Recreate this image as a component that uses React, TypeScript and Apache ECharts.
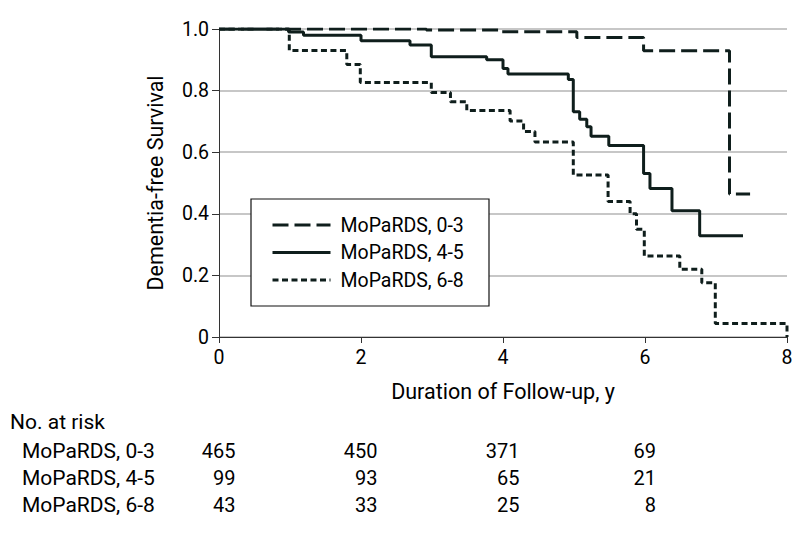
import React, { useEffect, useRef } from "react";
import * as echarts from "echarts";

// ---- data ----
const seriesNames = ["MoPaRDS, 0-3", "MoPaRDS, 4-5", "MoPaRDS, 6-8"];

// Kaplan-Meier steps: time (y) at which survival becomes the value
const timesLow = [0, 2.92, 3.95, 5.04, 5.98, 7.19, 7.48];
const survLow = [1.0, 0.997, 0.991, 0.972, 0.929, 0.464, 0.464];

const timesMid = [0, 0.98, 1.19, 2.0, 2.69, 2.99, 3.77, 4.0, 4.07, 4.92, 4.99, 5.08, 5.18, 5.24, 5.49, 5.98, 6.07, 6.38, 6.77, 7.38];
const survMid = [1.0, 0.99, 0.98, 0.962, 0.948, 0.91, 0.9, 0.872, 0.854, 0.836, 0.731, 0.707, 0.683, 0.652, 0.622, 0.531, 0.482, 0.41, 0.329, 0.329];

const timesHigh = [0, 0.99, 1.8, 1.99, 2.99, 3.26, 3.49, 4.1, 4.29, 4.45, 4.99, 5.48, 5.79, 5.88, 5.99, 6.49, 6.8, 6.99, 8.0];
const survHigh = [1.0, 0.93, 0.885, 0.826, 0.794, 0.764, 0.735, 0.701, 0.667, 0.633, 0.526, 0.44, 0.4, 0.35, 0.263, 0.22, 0.176, 0.044, 0.0];

const xTicks = [0, 2, 4, 6, 8];
const yTicks = [0, 0.2, 0.4, 0.6, 0.8, 1.0];

const riskTitle = "No. at risk";
const riskTimes = [0, 2, 4, 6];
const riskLow = [465, 450, 371, 69];
const riskMid = [99, 93, 65, 21];
const riskHigh = [43, 33, 25, 8];

const FONT = "Roboto";
const INK = "#0f1e1c";

function pairs(t: number[], v: number[]) {
  return t.map((x, i) => [x, v[i]]);
}

export default function App() {
  const ref = useRef<HTMLDivElement>(null);

  useEffect(() => {
    document.body.style.margin = "0";
    if (!ref.current) return;
    const chart = echarts.init(ref.current, undefined, { renderer: "svg" });

    const dashes: (number[] | "solid")[] = [[16, 6], "solid", [6, 3.5]];
    const allData = [pairs(timesLow, survLow), pairs(timesMid, survMid), pairs(timesHigh, survHigh)];

    chart.setOption({
      animation: false,
      textStyle: { fontFamily: FONT },
      grid: { left: 219, top: 29, right: 11, bottom: 196 },
      xAxis: {
        type: "value",
        min: xTicks[0],
        max: xTicks[xTicks.length - 1],
        interval: 2,
        name: "Duration of Follow-up, y",
        nameLocation: "middle",
        nameGap: 43,
        nameTextStyle: { fontSize: 21.5, color: "#000", fontFamily: FONT },
        axisLine: { lineStyle: { color: "#333", width: 1 } },
        axisTick: { length: 6, lineStyle: { color: "#333" } },
        axisLabel: { fontSize: 19.5, color: "#000", margin: 10, fontFamily: FONT },
        splitLine: { show: false },
      },
      yAxis: {
        type: "value",
        min: yTicks[0],
        max: yTicks[yTicks.length - 1],
        interval: 0.2,
        name: "Dementia-free Survival",
        nameLocation: "middle",
        nameGap: 53,
        nameTextStyle: { fontSize: 21.5, color: "#000", fontFamily: FONT },
        axisLine: { show: true, lineStyle: { color: "#333", width: 1 } },
        axisTick: { show: true, length: 7, lineStyle: { color: "#333" } },
        axisLabel: {
          fontSize: 19.5,
          color: "#000",
          margin: 10,
          fontFamily: FONT,
          formatter: (v: number) => (v === 0 ? "0" : v.toFixed(1)),
        },
        splitLine: { lineStyle: { color: "#b4b4b4", width: 1.5 } },
      },
      legend: {
        orient: "vertical",
        left: 271,
        top: 215,
        padding: 0,
        itemWidth: 58,
        itemHeight: 14,
        itemGap: 7.5,
        z: 10,
        data: seriesNames,
        itemStyle: { opacity: 0 },
        lineStyle: { width: 3 },
        textStyle: { fontSize: 19.5, color: "#000", fontFamily: FONT, lineHeight: 20, padding: [0, 0, 0, 5] },
      },
      series: seriesNames.map((name, i) => ({
        name,
        type: "line",
        step: "end",
        showSymbol: false,
        symbol: "none",
        data: allData[i],
        lineStyle: { color: INK, width: 3, type: dashes[i], cap: "butt" },
        itemStyle: { color: INK },
        z: 2,
      })),
    });

    // risk table positioned from the axis scale
    const rows = [riskLow, riskMid, riskHigh];
    const digitW = 11;
    const graphics: any[] = [
      {
        type: "rect",
        shape: { x: 251, y: 199, width: 238, height: 107 },
        style: { fill: "#fff", stroke: "#111", lineWidth: 1.2 },
        z: 5,
      },
      {
        type: "text",
        x: 10,
        y: 422,
        style: { text: riskTitle, font: `21px ${FONT}`, fill: "#000", textVerticalAlign: "middle" },
      },
    ];
    rows.forEach((row, r) => {
      const y = 451 + r * 27;
      graphics.push({
        type: "text",
        x: 22,
        y,
        style: { text: seriesNames[r], font: `21px ${FONT}`, fill: "#000", textVerticalAlign: "middle" },
      });
      row.forEach((n, c) => {
        const colMax = Math.max(...rows.map((rr) => String(rr[c]).length));
        const tx = chart.convertToPixel({ xAxisIndex: 0 }, riskTimes[c]) as number;
        graphics.push({
          type: "text",
          x: tx + (colMax * digitW) / 2,
          y,
          style: {
            text: String(n),
            font: `20px ${FONT}`,
            fill: "#000",
            textAlign: "right",
            textVerticalAlign: "middle",
          },
        });
      });
    });
    chart.setOption({ graphic: graphics });

    return () => chart.dispose();
  }, []);

  return <div ref={ref} style={{ width: 798, height: 533 }} />;
}
